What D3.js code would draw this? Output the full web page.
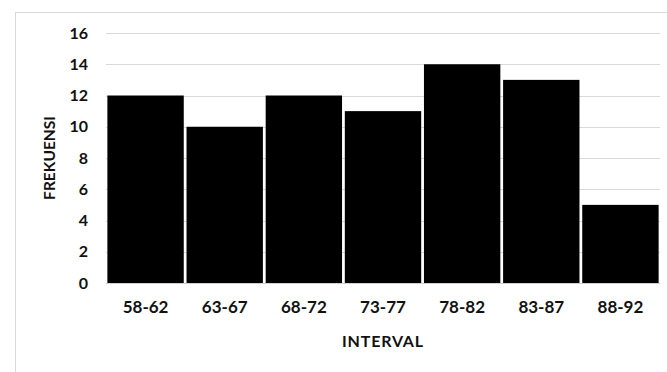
<!DOCTYPE html>
<html>
<head>
<meta charset="utf-8">
<script src="https://cdn.jsdelivr.net/npm/d3@7"></script>
<style>
  html, body { margin: 0; padding: 0; background: #fff; }
  svg { display: block; }
  text { font-family: Lato, "Open Sans", sans-serif; font-weight: bold; fill: #111; }
</style>
</head>
<body>
<svg id="chart" width="667" height="372"></svg>
<script>
// Frequency distribution of the score intervals
const intervals = ["58-62", "63-67", "68-72", "73-77", "78-82", "83-87", "88-92"];
const frequencies = [12, 10, 12, 11, 14, 13, 5];
const yTicks = [0, 2, 4, 6, 8, 10, 12, 14, 16];

const svg = d3.select("#chart");
const W = 667, H = 372;
const plot = { left: 106, right: 660, top: 33, bottom: 283 };

// chart frame
svg.append("rect")
  .attr("x", 15.5).attr("y", 12.5)
  .attr("width", W + 10).attr("height", H + 10)
  .attr("fill", "none").attr("stroke", "#d9d9d9").attr("stroke-width", 1);

const x = d3.scaleBand()
  .domain(intervals)
  .range([plot.left, plot.right])
  .paddingInner(0.035)
  .paddingOuter(0.0175);

const y = d3.scaleLinear()
  .domain([0, 16])
  .range([plot.bottom, plot.top]);

// horizontal gridlines
svg.append("g")
  .selectAll("line")
  .data(yTicks.filter(d => d > 0))
  .join("line")
  .attr("x1", plot.left).attr("x2", plot.right)
  .attr("y1", d => Math.round(y(d)) + 0.5).attr("y2", d => Math.round(y(d)) + 0.5)
  .attr("stroke", "#d9d9d9").attr("stroke-width", 1.2);

// bars
svg.append("g")
  .selectAll("rect")
  .data(intervals.map((k, i) => ({ k, v: frequencies[i] })))
  .join("rect")
  .attr("x", d => x(d.k))
  .attr("width", x.bandwidth())
  .attr("y", d => y(d.v))
  .attr("height", d => y(0) - y(d.v))
  .attr("fill", "#000");

// baseline
svg.append("line")
  .attr("x1", plot.left).attr("x2", plot.right)
  .attr("y1", Math.round(y(0)) + 0.5).attr("y2", Math.round(y(0)) + 0.5)
  .attr("stroke", "#d0d0d0").attr("stroke-width", 1.2);

// y tick labels
const yAxis = d3.axisLeft(y).tickValues(yTicks).tickSize(0).tickPadding(0);
const gy = svg.append("g")
  .attr("transform", `translate(88,0)`)
  .call(yAxis);
gy.select(".domain").remove();
gy.selectAll("text")
  .attr("font-size", 16)
  .attr("font-family", "Lato, sans-serif")
  .attr("font-weight", "bold")
  .attr("fill", "#111");

// x tick labels
const xAxis = d3.axisBottom(x).tickSize(0).tickPadding(0);
const gx = svg.append("g")
  .attr("transform", `translate(0,${plot.bottom + 18})`)
  .call(xAxis);
gx.select(".domain").remove();
gx.selectAll("text")
  .attr("font-size", 17)
  .attr("font-family", "Lato, sans-serif")
  .attr("font-weight", "bold")
  .attr("fill", "#111");

// axis titles
svg.append("text")
  .attr("x", (plot.left + plot.right) / 2)
  .attr("y", 340)
  .attr("text-anchor", "middle")
  .attr("dominant-baseline", "central")
  .attr("font-size", 16)
  .attr("letter-spacing", 0.8)
  .text("INTERVAL");

svg.append("text")
  .attr("transform", `translate(49,${(plot.top + plot.bottom) / 2}) rotate(-90)`)
  .attr("text-anchor", "middle")
  .attr("dominant-baseline", "central")
  .attr("font-size", 15.5)
  .text("FREKUENSI");
</script>
</body>
</html>
